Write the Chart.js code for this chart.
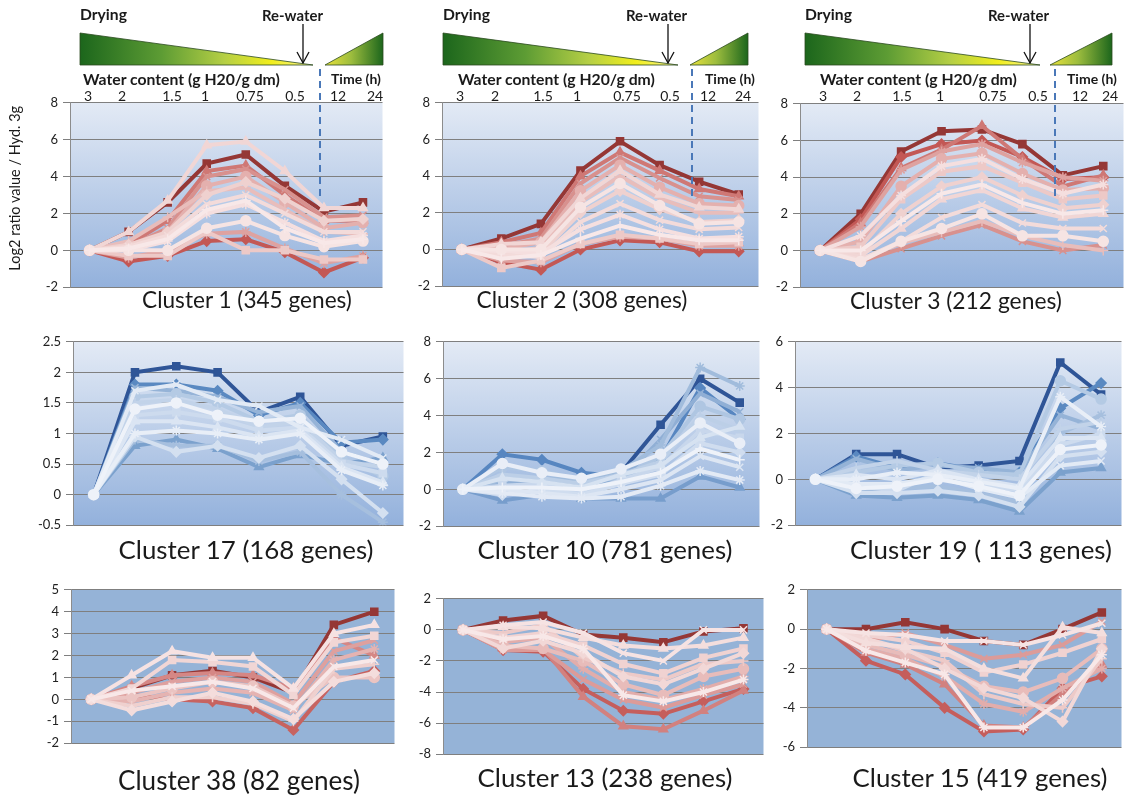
<!DOCTYPE html>
<html>
<head>
<meta charset="utf-8">
<script src="https://cdn.jsdelivr.net/npm/chart.js@4.4.1/dist/chart.umd.min.js"></script>
<style>
  body { margin: 0; width: 1131px; height: 795px; background: #fff; position: relative; overflow: hidden; font-family: Lato, "Open Sans", sans-serif; color: #1a1a1a; }
  canvas { position: absolute; }
  .txt { position: absolute; white-space: nowrap; line-height: 1; }
  .title { font-size: 22px; }
  .hdr { font-weight: bold; font-size: 15px; }
  .xt { font-size: 14px; }
  .yt { font-size: 12px; }
  svg { position: absolute; left: 0; top: 0; pointer-events: none; }
</style>
</head>
<body>
<script>
// sampling points: water content (g H2O/g dm) while drying, then hours after re-watering
var stages = ['3', '2', '1.5', '1', '0.75', '0.5', '12', '24'];
var topLabels = ['3', '2', '1.5', '1', '0.75', '0.5', '12', '24'];

// each row = one gene profile, log2 ratio vs hydrated 3g; darkest first, palest last
var cluster1 = [
  [0, 1.0, 2.6, 4.7, 5.2, 3.5, 2.1, 2.6],
  [0, -0.6, -0.3, 0.5, 0.6, -0.1, -1.2, -0.4],
  [0, 0.3, 1.6, 4.3, 4.6, 3.0, 1.6, 1.6],
  [0, 0.2, 1.2, 4.0, 4.4, 3.3, 1.8, 1.9],
  [0, -0.4, 0.0, 0.9, 1.0, 0.1, -0.7, -0.3],
  [0, 0.0, 1.0, 3.5, 4.0, 2.6, 1.2, 1.5],
  [0, 0.5, 1.8, 3.2, 3.4, 2.2, 1.0, 0.9],
  [0, -0.3, -0.3, 1.0, 0.0, 0.0, -0.5, -0.5],
  [0, 0.3, 1.0, 3.0, 3.7, 2.8, 1.6, 1.7],
  [0, 1.0, 2.7, 5.7, 5.9, 4.3, 2.3, 2.3],
  [0, 0.2, 0.8, 2.5, 3.0, 2.0, 1.0, 1.0],
  [0, 0.0, 0.5, 2.0, 2.5, 1.5, 0.5, 0.8],
  [0, 0.0, 0.0, 1.2, 1.6, 0.8, 0.2, 0.5],
  [0, 0.1, 0.6, 2.2, 2.7, 1.2, 0.4, 0.6]
];
var cluster2 = [
  [0, 0.6, 1.4, 4.3, 5.9, 4.6, 3.7, 3.0],
  [0, -0.7, -1.1, 0.0, 0.5, 0.4, -0.1, -0.1],
  [0, 0.4, 0.9, 4.0, 5.3, 4.3, 3.3, 2.9],
  [0, 0.2, 0.6, 3.6, 5.0, 3.9, 2.9, 2.7],
  [0, -0.6, -0.7, 0.3, 0.7, 0.6, 0.2, 0.2],
  [0, 0.0, 0.4, 3.2, 4.6, 3.4, 2.5, 2.4],
  [0, -0.2, 0.1, 2.6, 4.0, 2.8, 2.0, 2.0],
  [0, -1.0, -0.6, 0.3, 0.8, 0.6, 0.3, 0.4],
  [0, -0.4, -0.2, 2.0, 3.2, 2.2, 1.5, 1.6],
  [0, 0.3, 0.4, 2.8, 4.3, 3.0, 2.3, 2.2],
  [0, -0.3, -0.4, 1.5, 2.5, 1.6, 1.1, 1.2],
  [0, -0.1, -0.2, 1.1, 1.9, 1.1, 0.6, 0.7],
  [0, 0.0, 0.0, 2.3, 3.6, 2.4, 1.4, 1.5],
  [0, -0.5, -0.3, 0.6, 1.3, 0.8, 0.5, 0.5]
];
var cluster3 = [
  [0, 2.0, 5.4, 6.5, 6.6, 5.8, 4.1, 4.6],
  [0, 1.7, 5.1, 5.8, 6.0, 5.1, 3.9, 4.0],
  [0, 1.5, 4.5, 5.5, 6.8, 5.0, 3.5, 4.1],
  [0, -0.6, 0.1, 0.8, 1.4, 0.5, 0.0, 0.3],
  [0, 1.3, 4.4, 5.4, 5.8, 4.8, 4.0, 3.8],
  [0, 0.5, 3.5, 5.0, 5.3, 4.2, 3.3, 3.4],
  [0, -0.5, 0.4, 1.0, 1.6, 0.8, 0.3, 0.0],
  [0, 0.2, 2.8, 4.3, 4.6, 3.7, 2.8, 3.0],
  [0, -0.2, 2.0, 3.5, 4.0, 3.0, 2.3, 2.5],
  [0, -0.3, 1.2, 2.8, 3.3, 2.3, 1.8, 2.0],
  [0, -0.5, 0.5, 1.8, 2.5, 1.5, 1.2, 1.2],
  [0, 0.8, 3.0, 4.6, 5.0, 3.9, 3.1, 3.6],
  [0, -0.6, 0.5, 1.2, 2.0, 0.8, 0.8, 0.5],
  [0, 0.0, 1.6, 3.1, 3.6, 2.6, 2.0, 2.2]
];
var cluster17 = [
  [0, 2.0, 2.1, 2.0, 1.35, 1.6, 0.8, 0.95],
  [0, 1.8, 1.8, 1.7, 1.3, 1.5, 0.85, 0.9],
  [0, 0.8, 0.9, 0.75, 0.45, 0.65, 0.5, 0.6],
  [0, 1.75, 1.7, 1.6, 1.35, 1.45, 0.7, 0.5],
  [0, 0.9, 0.8, 0.8, 0.55, 0.7, 0.0, -0.45],
  [0, 1.6, 1.65, 1.5, 1.2, 1.3, 0.6, 0.3],
  [0, 1.5, 1.55, 1.4, 1.1, 1.2, 0.55, 0.45],
  [0, 1.3, 1.35, 1.25, 1.05, 1.1, 0.5, 0.35],
  [0, 0.95, 0.7, 0.8, 0.6, 0.8, 0.25, -0.3],
  [0, 1.2, 1.2, 1.1, 0.95, 1.05, 0.45, 0.2],
  [0, 1.7, 1.8, 1.55, 1.45, 1.1, 0.9, 0.6],
  [0, 1.0, 1.05, 1.0, 0.9, 1.0, 0.4, 0.15],
  [0, 1.4, 1.5, 1.3, 1.2, 1.25, 0.7, 0.5]
];
var cluster10 = [
  [0, 0.3, 0.2, 0.3, 0.9, 3.5, 6.0, 4.7],
  [0, 1.9, 1.6, 0.9, 0.7, 1.6, 5.5, 3.8],
  [0, -0.6, -0.3, -0.5, -0.5, -0.5, 0.7, 0.1],
  [0, 0.4, 0.3, 0.2, 0.5, 2.7, 5.2, 4.2],
  [0, 0.5, 0.6, 0.5, 1.0, 2.4, 6.6, 5.6],
  [0, 1.2, 1.0, 0.5, 0.6, 1.8, 4.5, 3.8],
  [0, 0.8, 0.6, 0.3, 0.8, 1.5, 4.0, 3.2],
  [0, 0.2, 0.3, -0.2, 0.5, 1.2, 3.2, 2.8],
  [0, -0.3, 0.0, -0.3, 0.3, 0.8, 2.5, 2.0],
  [0, 0.6, 0.4, 0.1, 0.8, 1.3, 2.8, 3.4],
  [0, 0.0, -0.2, -0.4, 0.0, 0.5, 1.8, 1.2],
  [0, -0.2, -0.4, -0.5, -0.4, 0.2, 1.0, 0.5],
  [0, 1.4, 0.9, 0.6, 1.1, 1.9, 3.6, 2.5],
  [0, 0.1, 0.1, 0.0, 0.4, 0.9, 2.2, 1.6]
];
var cluster19 = [
  [0, 1.1, 1.1, 0.5, 0.6, 0.8, 5.1, 3.7],
  [0, 1.0, 0.5, 0.7, 0.4, 0.3, 3.1, 4.2],
  [0, -0.7, -0.8, -0.7, -0.9, -1.4, 0.3, 0.5],
  [0, 0.9, 0.4, 0.6, 0.5, 0.3, 2.8, 2.2],
  [0, -0.5, -0.4, -0.3, -0.6, -1.0, 2.0, 2.8],
  [0, 0.3, 0.6, 0.7, 0.3, 0.2, 4.3, 3.5],
  [0, 0.5, 0.8, 0.4, 0.2, 0.0, 2.2, 2.5],
  [0, -0.3, -0.5, 0.3, -0.2, -0.5, 1.5, 2.0],
  [0, -0.6, -0.6, -0.5, -0.7, -1.2, 1.0, 1.2],
  [0, 0.2, 0.0, 0.4, 0.0, -0.3, 1.8, 1.8],
  [0, -0.2, -0.2, 0.1, -0.4, -0.8, 0.6, 0.8],
  [0, 0.0, 0.3, 0.2, -0.1, -0.4, 3.6, 2.3],
  [0, -0.4, -0.3, 0.0, -0.3, -0.7, 1.3, 1.5]
];
var cluster38 = [
  [0, 0.5, 1.1, 1.3, 1.0, 0.3, 3.4, 4.0],
  [0, 0.2, 0.0, -0.1, -0.4, -1.4, 0.8, 1.3],
  [0, 0.6, 1.1, 1.2, 1.1, 0.5, 2.8, 2.0],
  [0, 0.3, 0.8, 1.0, 0.8, -0.2, 2.2, 2.7],
  [0, -0.1, 0.3, 0.5, 0.3, -0.5, 1.8, 2.3],
  [0, 0.1, 0.5, 0.8, 0.6, -0.3, 1.0, 1.0],
  [0, -0.3, 0.1, 0.1, -0.2, -1.0, 1.4, 1.6],
  [0, 0.5, 1.8, 1.7, 1.5, 0.2, 2.6, 2.9],
  [0, -0.5, -0.1, 0.3, -0.1, -0.9, 0.8, 1.2],
  [0, 1.1, 2.2, 1.9, 1.9, 0.5, 3.0, 3.4],
  [0, 0.4, 0.6, 0.8, 0.5, -0.4, 1.5, 1.8]
];
var cluster13 = [
  [0, 0.6, 0.9, -0.3, -0.5, -0.8, -0.1, 0.1],
  [0, -1.3, -1.4, -3.8, -5.2, -5.4, -4.6, -3.8],
  [0, -1.2, -1.2, -4.3, -6.2, -6.4, -5.2, -3.9],
  [0, -1.3, -1.3, -3.2, -4.5, -5.0, -4.2, -3.5],
  [0, -0.8, -0.5, -2.5, -4.0, -4.5, -3.8, -3.0],
  [0, -1.0, -1.2, -2.0, -3.5, -4.2, -3.0, -2.5],
  [0, -0.2, 0.3, -1.8, -2.8, -3.2, -2.2, -2.0],
  [0, -0.5, -0.2, -1.0, -2.2, -2.8, -1.8, -1.2],
  [0, -1.2, -0.7, -1.5, -3.0, -3.5, -2.5, -1.5],
  [0, 0.2, 0.1, -0.5, -1.0, -1.2, -1.0, -0.5],
  [0, 0.3, 0.5, -0.2, -1.5, -2.0, 0.0, 0.0],
  [0, -0.6, -0.4, -1.2, -4.2, -4.6, -4.0, -3.2]
];
var cluster15 = [
  [0, 0.0, 0.35, 0.0, -0.6, -0.8, 0.0, 0.85],
  [0, -1.6, -2.3, -4.0, -5.2, -5.1, -3.0, -2.4],
  [0, -1.2, -1.8, -2.8, -4.9, -5.0, -3.3, -1.8],
  [0, -0.6, -0.2, -0.8, -1.5, -1.3, -0.8, 0.4],
  [0, -1.0, -1.5, -2.4, -3.8, -4.2, -3.0, -2.0],
  [0, -0.8, -1.3, -1.9, -2.9, -3.2, -2.5, -1.0],
  [0, -0.5, -1.1, -1.6, -3.3, -3.8, -4.0, -1.5],
  [0, -0.3, -0.6, -1.2, -2.2, -1.8, -1.2, -0.5],
  [0, -0.5, -1.0, -2.0, -3.0, -3.5, -4.7, -1.0],
  [0, -0.7, -0.9, -1.0, -2.0, -2.5, 0.1, -0.2],
  [0, -0.2, -0.3, -0.6, -0.6, -0.8, -0.3, 0.3],
  [0, -1.1, -1.7, -2.3, -5.0, -5.0, -3.6, -1.3]
];

// y axis ranges [min, max, step]
var range1 = [-2, 8, 2];
var range17 = [-0.5, 2.5, 0.5];
var range19 = [-2, 6, 2];
var range38 = [-2, 5, 1];
var range13 = [-8, 2, 2];
var range15 = [-6, 2, 2];

var reds = [[149, 55, 53], [192, 80, 77], [218, 150, 148], [238, 205, 203], [248, 232, 232]];
var blues = [[47, 85, 151], [79, 129, 189], [149, 179, 215], [203, 218, 237], [238, 242, 249]];
var markers = ['rect', 'rectRot', 'triangle', 'crossRot', 'star', 'circle', 'cross'];

// box = plot area [left, top, right, bottom] on the page
var panels = [
  { title: 'Cluster 1 (345 genes)', rows: cluster1, pal: reds, y: range1, bg: 'grad', box: [70, 102, 386, 288], tx: 247, ty: 300, tw: 210 },
  { title: 'Cluster 2 (308 genes)', rows: cluster2, pal: reds, y: range1, bg: 'grad', box: [442, 102, 762, 287], tx: 582, ty: 300, tw: 211 },
  { title: 'Cluster 3 (212 genes)', rows: cluster3, pal: reds, y: range1, bg: 'grad', box: [800, 103, 1127, 288], tx: 956, ty: 300, tw: 212 },
  { title: 'Cluster 17 (168 genes)', rows: cluster17, pal: blues, y: range17, bg: 'grad', box: [73, 341, 407, 526], tx: 246, ty: 550, tw: 255 },
  { title: 'Cluster 10 (781 genes)', rows: cluster10, pal: blues, y: range1, bg: 'grad', box: [443, 341, 763, 527], tx: 605, ty: 550, tw: 255 },
  { title: 'Cluster 19 ( 113 genes)', rows: cluster19, pal: blues, y: range19, bg: 'grad', box: [795, 341, 1125, 526], tx: 981, ty: 550, tw: 262 },
  { title: 'Cluster 38 (82 genes)', rows: cluster38, pal: reds, y: range38, bg: 'flat', box: [71, 589, 398, 744], tx: 239, ty: 780, tw: 242 },
  { title: 'Cluster 13 (238 genes)', rows: cluster13, pal: reds, y: range13, bg: 'flat', box: [443, 598, 767, 755], tx: 605, ty: 778, tw: 255 },
  { title: 'Cluster 15 (419 genes)', rows: cluster15, pal: reds, y: range15, bg: 'flat', box: [807, 589, 1125, 748], tx: 980, ty: 778, tw: 255 }
];

// drying / re-water sketch above the top row
var headers = [
  { dry: 80, apex: 313, arrow: 303, rw: 262, t2a: 325, t2b: 383, wc: 83, time: 331, dash: 320, ticks: [88, 122, 172, 205, 250, 295, 338, 375] },
  { dry: 443, apex: 678, arrow: 668, rw: 626, t2a: 690, t2b: 748, wc: 458, time: 705, dash: 692, ticks: [460, 495, 543, 577, 627, 670, 708, 743] },
  { dry: 805, apex: 1040, arrow: 1030, rw: 988, t2a: 1050, t2b: 1112, wc: 820, time: 1067, dash: 1055, ticks: [823, 857, 902, 940, 993, 1038, 1080, 1110] }
];

var plotBg = {
  id: 'plotBg',
  beforeDraw: function(chart, args, opts) {
    var a = chart.chartArea;
    var ctx = chart.ctx;
    var fill = '#95b3d7';
    if (opts.mode === 'grad') {
      fill = ctx.createLinearGradient(0, a.top, 0, a.bottom);
      fill.addColorStop(0, '#e3eaf5');
      fill.addColorStop(1, '#93b1dc');
    }
    ctx.save();
    ctx.fillStyle = fill;
    ctx.fillRect(a.left, a.top, a.right - a.left, a.bottom - a.top);
    ctx.restore();
  }
};

function shade(pal, t) {
  var seg = t * (pal.length - 1);
  var i = Math.min(Math.floor(seg), pal.length - 2);
  var f = seg - i;
  var a = pal[i], b = pal[i + 1];
  var out = [];
  for (var k = 0; k < 3; k++) {
    out.push(Math.round(a[k] + (b[k] - a[k]) * f));
  }
  return 'rgb(' + out.join(',') + ')';
}

function buildSets(rows, pal) {
  var sets = [];
  for (var i = 0; i < rows.length; i++) {
    // only the first couple of profiles stay dark, the bulk is pale
    var col = shade(pal, Math.sqrt(i / (rows.length - 1)));
    sets.push({
      data: rows[i],
      borderColor: col,
      backgroundColor: col,
      pointBackgroundColor: col,
      pointBorderColor: col,
      borderWidth: 4,
      pointRadius: 5,
      pointBorderWidth: 1.5,
      pointStyle: markers[i % markers.length],
      tension: 0
    });
  }
  // dataset 0 is painted last, so put the palest first
  return sets.reverse();
}

function addText(cls, str, x, y, width, align) {
  var el = document.createElement('div');
  el.className = 'txt ' + cls;
  el.textContent = str;
  document.body.appendChild(el);
  if (width) {
    var fs = parseFloat(getComputedStyle(el).fontSize);
    el.style.fontSize = (fs * width / el.getBoundingClientRect().width) + 'px';
  }
  var r = el.getBoundingClientRect();
  var left = align === 'center' ? x - r.width / 2 : x;
  el.style.left = left + 'px';
  el.style.top = (y - r.height / 2) + 'px';
  return el;
}

function makeChart(p) {
  var padL = 46, padT = 12, padB = 12, padR = 3;
  var c = document.createElement('canvas');
  var w = p.box[2] - p.box[0] + padL + padR;
  var h = p.box[3] - p.box[1] + padT + padB;
  c.width = w;
  c.height = h;
  c.style.left = (p.box[0] - padL) + 'px';
  c.style.top = (p.box[1] - padT) + 'px';
  c.style.width = w + 'px';
  c.style.height = h + 'px';
  document.body.appendChild(c);
  new Chart(c, {
    type: 'line',
    data: { labels: stages, datasets: buildSets(p.rows, p.pal) },
    options: {
      responsive: false,
      animation: false,
      devicePixelRatio: 1,
      layout: { padding: { top: padT, bottom: padB, left: 0, right: padR } },
      plugins: { legend: { display: false }, tooltip: { enabled: false }, plotBg: { mode: p.bg } },
      scales: {
        x: { type: 'category', display: false, offset: true },
        y: {
          min: p.y[0],
          max: p.y[1],
          afterFit: function(s) { s.width = padL; },
          ticks: {
            stepSize: p.y[2],
            color: '#222',
            padding: 5,
            font: { family: 'Lato', size: 13 },
            callback: function(v) { return String(v); }
          },
          grid: { color: '#7f7f7f', lineWidth: 1, tickLength: 7 },
          border: { display: true, color: '#8c8c8c' }
        }
      }
    },
    plugins: [plotBg]
  });
  addText('title', p.title, p.tx, p.ty, p.tw, 'center');
}

for (var i = 0; i < panels.length; i++) {
  makeChart(panels[i]);
}

// header sketch + dashed re-water line, drawn over the charts
var NS = 'http://www.w3.org/2000/svg';
var svg = document.createElementNS(NS, 'svg');
svg.setAttribute('width', 1131);
svg.setAttribute('height', 795);
svg.innerHTML =
  '<defs>' +
  '<linearGradient id="dryG" x1="0" x2="1" y1="0" y2="0">' +
  '<stop offset="0" stop-color="#1c661c"/><stop offset="0.35" stop-color="#5d9c34"/>' +
  '<stop offset="0.62" stop-color="#b5cf45"/><stop offset="0.82" stop-color="#f1ee1c"/><stop offset="1" stop-color="#f6f39a"/>' +
  '</linearGradient>' +
  '<linearGradient id="wetG" x1="0" x2="1" y1="0" y2="0">' +
  '<stop offset="0" stop-color="#e9e23c"/><stop offset="0.45" stop-color="#9dbd3e"/><stop offset="1" stop-color="#1c661c"/>' +
  '</linearGradient>' +
  '</defs>';
document.body.appendChild(svg);

function svgEl(tag, attrs) {
  var el = document.createElementNS(NS, tag);
  for (var k in attrs) el.setAttribute(k, attrs[k]);
  svg.appendChild(el);
}

for (var j = 0; j < headers.length; j++) {
  var hd = headers[j];
  svgEl('polygon', { points: hd.dry + ',33 ' + hd.dry + ',65 ' + hd.apex + ',65', fill: 'url(#dryG)', stroke: '#2b4a20', 'stroke-width': 0.8 });
  svgEl('polygon', { points: hd.t2a + ',65 ' + hd.t2b + ',33 ' + hd.t2b + ',65', fill: 'url(#wetG)', stroke: '#2b4a20', 'stroke-width': 0.8 });
  svgEl('line', { x1: hd.arrow, y1: 24, x2: hd.arrow, y2: 63, stroke: '#111', 'stroke-width': 1.3 });
  svgEl('polyline', { points: (hd.arrow - 6) + ',52 ' + hd.arrow + ',63 ' + (hd.arrow + 6) + ',52', fill: 'none', stroke: '#111', 'stroke-width': 1.3 });
  svgEl('line', { x1: hd.dash, y1: 69, x2: hd.dash, y2: 200, stroke: '#4a78b8', 'stroke-width': 2, 'stroke-dasharray': '7,5' });
  addText('hdr', 'Drying', hd.dry, 15, 47, 'left');
  addText('hdr', 'Re-water', hd.rw, 15, 61, 'left');
  addText('hdr', 'Water content (g H20/g dm)', hd.wc, 79, 197, 'left');
  addText('hdr', 'Time (h)', hd.time, 79, 50, 'left');
  for (var q = 0; q < topLabels.length; q++) {
    addText('xt', topLabels[q], hd.ticks[q], 96, 0, 'center');
  }
}

// shared y axis title, sized to its span then turned upright
var yt = addText('yt', 'Log2 ratio value / Hyd. 3g', 15, 188, 165, 'center');
yt.style.transform = 'rotate(-90deg)';
</script>
</body>
</html>
